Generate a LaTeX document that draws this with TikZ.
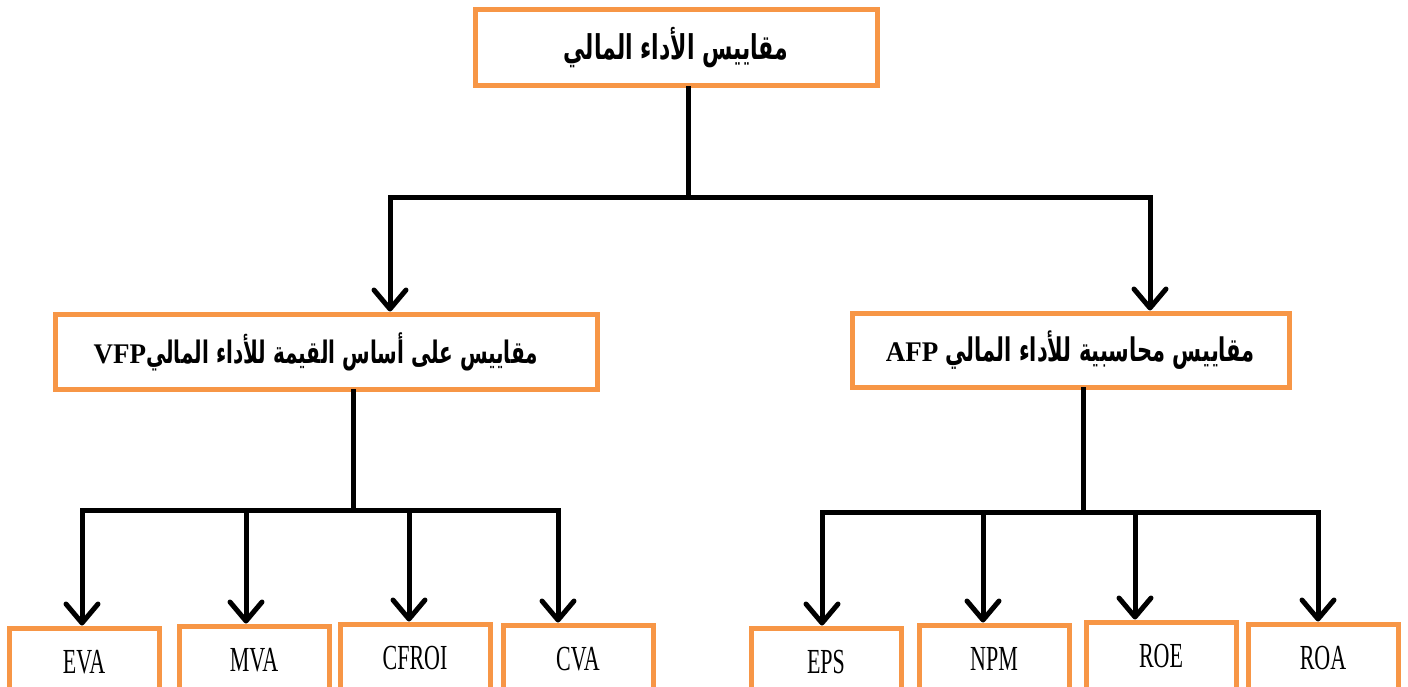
\documentclass[tikz,border=0pt]{standalone}
\usepackage{graphicx}
\usepackage{fontspec}
\setmainfont{Liberation Serif}
\newfontfamily\arabicfont[Script=Arabic]{DejaVu Sans}
\TeXXeTstate=1
\usetikzlibrary{arrows.meta}
\definecolor{boxorange}{HTML}{F79646}
\newcommand{\artext}[2][21]{\scalebox{1}[1.55]{\fontsize{#1}{26}\selectfont\arabicfont\bfseries\beginR #2\endR}}
\newcommand{\latinbold}[1]{\beginL{\rmfamily\bfseries\fontsize{27}{30}\selectfont\scalebox{1}[0.68]{#1}}\endL}
\newcommand{\leaflabel}[1]{\scalebox{1}[1.6]{\fontsize{22}{26}\selectfont #1}}
\begin{document}
\begin{tikzpicture}[x=1pt,y=-1pt,
  box/.style={draw=boxorange, line width=5pt, fill=white, inner sep=0pt},
  leaf/.style={box, minimum width=150pt, minimum height=68pt},
  link/.style={line width=5pt, draw=black, line cap=rect},
  arr/.style={line width=5pt, draw=black,
    -{Straight Barb[length=19pt,width=32pt,line width=5pt,round]}}]
\useasboundingbox (0,0) rectangle (1408,687);
\clip (0,0) rectangle (1408,687);

% root and the two families of measures
\node[box, minimum width=402pt, minimum height=76pt] (root) at (676,48)
  {\artext[22]{مقاييس الأداء المالي}};
\node[box, minimum width=542pt, minimum height=75pt] (vfp) at (326,351.5)
  {\hspace*{-20pt}\artext[20]{مقاييس على أساس القيمة للأداء المالي\latinbold{VFP}}};
\node[box, minimum width=437pt, minimum height=74pt] (afp) at (1070.5,350)
  {\artext{مقاييس محاسبية للأداء المالي \latinbold{AFP}}};

% value-based measures
\node[leaf] (eva)   at (84,662)  {\leaflabel{EVA}};
\node[leaf] (mva)   at (254,660) {\leaflabel{MVA}};
\node[leaf] (cfroi) at (415,658) {\leaflabel{CFROI}};
\node[leaf] (cva)   at (578,659) {\leaflabel{CVA}};

% accounting measures
\node[leaf] (eps) at (826,662)  {\leaflabel{EPS}};
\node[leaf] (npm) at (994,659)  {\leaflabel{NPM}};
\node[leaf] (roe) at (1161,656) {\leaflabel{ROE}};
\node[leaf] (roa) at (1323,658) {\leaflabel{ROA}};

% branch points
\coordinate (j0) at (688,198);
\coordinate (jl) at (390,198);
\coordinate (jr) at (1150,198);
\coordinate (k0) at (353,510);
\coordinate (k1) at (82,510);
\coordinate (k2) at (246,510);
\coordinate (k3) at (409,510);
\coordinate (k4) at (558,510);
\coordinate (m0) at (1083,512);
\coordinate (m1) at (822,512);
\coordinate (m2) at (983,512);
\coordinate (m3) at (1135,512);
\coordinate (m4) at (1318,512);

% root to families
\draw[link] (j0 |- root.south) -- (j0);
\draw[link] (jl) -- (jr);
\draw[arr] (jl) -- (jl |- vfp.north);
\draw[arr] (jr) -- (jr |- afp.north);

% value-based branch
\draw[link] (k0 |- vfp.south) -- (k0);
\draw[link] (k1) -- (k4);
\draw[arr] (k1) -- (k1 |- eva.north);
\draw[arr] (k2) -- (k2 |- mva.north);
\draw[arr] (k3) -- (k3 |- cfroi.north);
\draw[arr] (k4) -- (k4 |- cva.north);

% accounting branch
\draw[link] (m0 |- afp.south) -- (m0);
\draw[link] (m1) -- (m4);
\draw[arr] (m1) -- (m1 |- eps.north);
\draw[arr] (m2) -- (m2 |- npm.north);
\draw[arr] (m3) -- (m3 |- roe.north);
\draw[arr] (m4) -- (m4 |- roa.north);
\end{tikzpicture}
\end{document}
